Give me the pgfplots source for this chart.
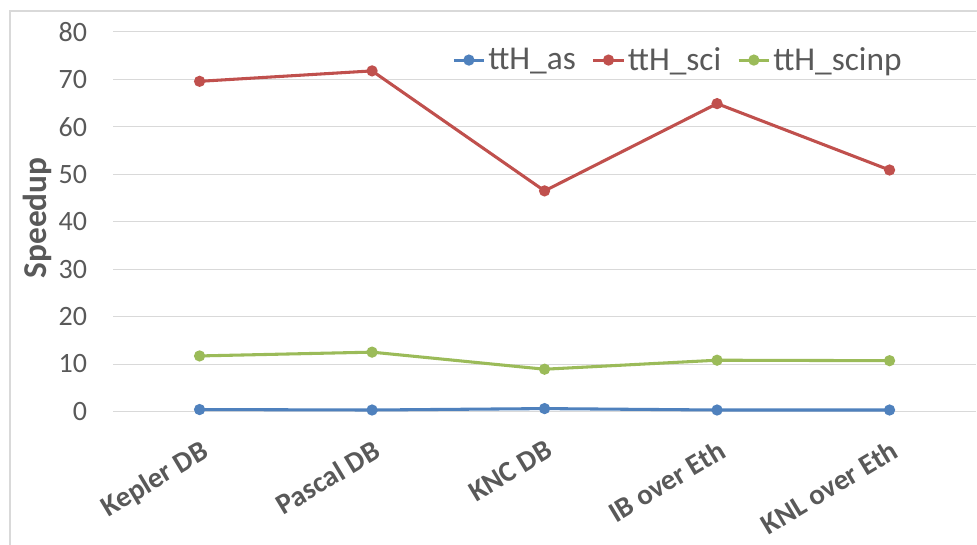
\documentclass[border=0pt]{standalone}
\usepackage{pgfplots}
\pgfplotsset{compat=1.18}
\usepackage{fontspec}
\setmainfont{Carlito}

\definecolor{txtgray}{HTML}{595959}
\definecolor{gridgray}{HTML}{D9D9D9}
\definecolor{sblue}{HTML}{4F81BD}
\definecolor{sred}{HTML}{C0504D}
\definecolor{sgreen}{HTML}{9BBB59}

\begin{document}
\begin{tikzpicture}
% page area
\path[use as bounding box] (-85pt,-100.1pt) rectangle (647.8pt,308.6pt);
% chart frame
\draw[gridgray, line width=0.9pt] (-77.5pt,-101pt) -- (-77.5pt,300.4pt) -- (650pt,300.4pt);
\begin{axis}[
  at={(0,0)}, anchor=south west,
  scale only axis,
  width=646.9pt, height=284.6pt,
  xmin=-0.5, xmax=4.5,
  ymin=0, ymax=80,
  ytick={0,10,...,80},
  xtick={0,1,2,3,4},
  xticklabels={Kepler DB,Pascal DB,KNC DB,IB over Eth,KNL over Eth},
  axis line style={draw=none},
  major tick length=0pt,
  ymajorgrids,
  major grid style={gridgray, line width=0.75pt},
  /pgf/number format/assume math mode=true,
  tick label style={font=\fontsize{21}{24}\selectfont, text=txtgray},
  xticklabel style={font=\fontsize{21.7}{24}\selectfont\bfseries, text=txtgray,
    yshift=-20.5pt, xshift=0pt, rotate=31, anchor=north east, inner sep=0pt},
  yticklabel style={anchor=east, inner sep=0pt, xshift=-19.5pt},
  ylabel={Speedup},
  ylabel style={font=\fontsize{25}{27}\selectfont\bfseries, text=txtgray,
    at={(axis description cs:-0.0885,0.51)}, anchor=center},
  legend columns=3,
  legend style={at={(axis description cs:0.655,0.926)}, anchor=center,
    draw=none, fill=white, font=\fontsize{25}{27}\selectfont, text=txtgray,
    /tikz/every even column/.append style={column sep=10pt}},
  legend image code/.code={%
    \draw[#1, mark repeat=2, mark phase=2] plot coordinates {(0cm,0cm) (0.4cm,0cm) (0.8cm,0cm)};},
  every axis plot/.append style={line width=2.3pt, mark=*, mark size=3pt,
    mark options={solid}},
]
\addplot[color=sblue, mark options={fill=sblue}] coordinates {
  (0,0.4) (1,0.3) (2,0.6) (3,0.3) (4,0.3)};
\addlegendentry{ttH\_as}
\addplot[color=sred, mark options={fill=sred}] coordinates {
  (0,69.6) (1,71.8) (2,46.5) (3,64.9) (4,50.9)};
\addlegendentry{ttH\_sci}
\addplot[color=sgreen, mark options={fill=sgreen}] coordinates {
  (0,11.7) (1,12.5) (2,8.9) (3,10.8) (4,10.7)};
\addlegendentry{ttH\_scinp}
\end{axis}
\end{tikzpicture}
\end{document}
